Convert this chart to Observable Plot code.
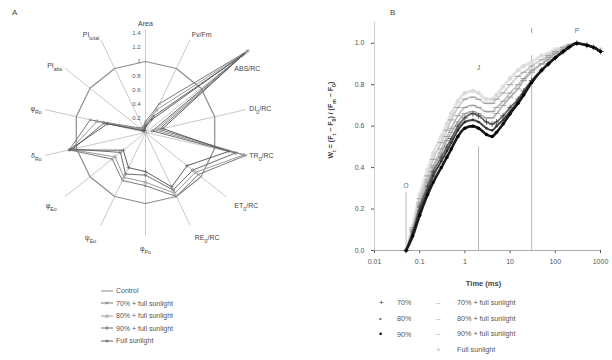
<!DOCTYPE html>
<html><head><meta charset="utf-8">
<script src="https://cdn.jsdelivr.net/npm/d3@7"></script>
<script src="https://cdn.jsdelivr.net/npm/@observablehq/plot@0.6"></script>
<style>
body{margin:0;background:#fff;font-family:"Liberation Sans",Arial,sans-serif;}
#wrap{position:relative;width:612px;height:360px;overflow:hidden;background:#fff;}
.panel{position:absolute;top:0;}
.plab{position:absolute;font-size:8px;color:#444;}
.leg{position:absolute;font-size:7px;color:#555;line-height:1;}
.row{position:absolute;white-space:nowrap;display:flex;align-items:center;}
.row svg{margin-right:3px;}
</style></head><body><div id="wrap">
<div id="A" class="panel" style="left:0"></div>
<div id="B" class="panel" style="left:300px"></div>
<div class="plab" style="left:12px;top:8px">A</div>
<div class="plab" style="left:390px;top:8px">B</div>
<div id="legA" class="leg" style="left:101px;top:287px;width:130px;height:66px"></div>
<div id="legB" class="leg" style="left:376px;top:296px;width:220px;height:62px;font-size:7.2px"></div>
</div>
<script>
// ---------- Panel A data (relative to control) ----------
const radarAxes = ["Area","Fv/Fm","ABS/RC","DI_{0}/RC","TR_{0}/RC","ET_{0}/RC","RE_{0}/RC","φ_{Po}","ψ_{Eo}","φ_{Eo}","δ_{Ro}","φ_{Ro}","PI_{abs}","PI_{total}"];
const radarTicks = [0.2,0.4,0.6,0.8,1,1.2,1.4];
const radarNames = ["Control","70% + full sunlight","80% + full sunlight","90% + full sunlight","Full sunlight"];
const radarControl = [1,1,1,1,1,1,1,1,1,1,1,1,1,1];
const radar70 = [0.15,0.45,1.85,0.20,1.45,0.95,1.00,0.75,0.75,0.60,1.10,0.80,0.10,0.08];
const radar80 = [0.12,0.35,1.82,0.15,1.42,0.90,0.95,0.70,0.70,0.55,1.08,0.70,0.08,0.06];
const radar90 = [0.10,0.25,1.74,0.10,1.30,0.85,0.90,0.60,0.65,0.45,1.05,0.60,0.05,0.04];
const radarFull = [0.08,0.20,1.78,0.25,1.20,0.75,0.85,0.55,0.55,0.40,1.10,0.55,0.04,0.03];

// ---------- Panel B data (OJIP W_t) ----------
const timeMs = [0.05,0.07,0.1,0.15,0.2,0.3,0.4,0.5,0.7,1,1.5,2,3,4,5,7,10,15,20,30,50,70,100,150,200,300,500,700,1000];
const w70  = [0,0.09,0.21,0.31,0.38,0.45,0.50,0.54,0.60,0.64,0.66,0.65,0.62,0.61,0.62,0.65,0.69,0.73,0.77,0.82,0.87,0.90,0.93,0.96,0.98,1.00,0.99,0.98,0.96];
const w80  = [0,0.08,0.19,0.29,0.36,0.43,0.48,0.52,0.58,0.62,0.63,0.62,0.59,0.58,0.60,0.63,0.67,0.72,0.76,0.81,0.87,0.90,0.93,0.96,0.98,1.00,0.99,0.98,0.96];
const w90  = [0,0.07,0.17,0.27,0.33,0.40,0.45,0.49,0.55,0.59,0.60,0.59,0.56,0.55,0.57,0.61,0.66,0.71,0.75,0.81,0.87,0.90,0.93,0.96,0.98,1.00,0.99,0.98,0.96];
const w70fs = [0,0.10,0.23,0.34,0.41,0.49,0.55,0.59,0.65,0.69,0.70,0.69,0.67,0.67,0.69,0.72,0.76,0.80,0.83,0.87,0.90,0.93,0.95,0.97,0.99,1.00,0.99,0.98,0.96];
const w80fs = [0,0.10,0.22,0.33,0.40,0.47,0.53,0.57,0.62,0.66,0.67,0.66,0.64,0.64,0.66,0.70,0.74,0.78,0.82,0.86,0.90,0.92,0.95,0.97,0.99,1.00,0.99,0.98,0.96];
const w90fs = [0,0.11,0.25,0.36,0.44,0.52,0.58,0.63,0.69,0.73,0.74,0.73,0.71,0.71,0.73,0.76,0.80,0.84,0.86,0.89,0.92,0.94,0.96,0.98,0.99,1.00,0.99,0.98,0.96];
const wFull = [0,0.12,0.27,0.39,0.47,0.55,0.61,0.66,0.72,0.76,0.77,0.76,0.73,0.73,0.75,0.79,0.83,0.87,0.89,0.91,0.94,0.95,0.97,0.98,0.99,1.00,0.99,0.98,0.97];
const stepNames = ["O","J","I","P"];
const stepTimes = [0.05,2,30,300];
const stepTops = [0.28,0.5,0.94,null];
const stepLabelY = [0.31,0.88,1.06,1.06];
const xTicks = [0.01,0.1,1,10,100,1000];
const yTicks = [0,0.2,0.4,0.6,0.8,1.0];

// ---------- helpers ----------
function subify(root){
  root.querySelectorAll("text").forEach(t=>{
    const tsp=[...t.querySelectorAll("tspan")];
    const nodes = tsp.length? tsp : [t];
    nodes.forEach(n=>{
      const s=n.textContent; if(!s.includes("_{")) return;
      n.textContent="";
      const re=/_\{([^}]*)\}/g; let last=0,m;
      while((m=re.exec(s))){
        if(m.index>last) n.appendChild(document.createTextNode(s.slice(last,m.index)));
        const ts=document.createElementNS("http://www.w3.org/2000/svg","tspan");
        ts.setAttribute("baseline-shift","sub"); ts.setAttribute("font-size","75%");
        ts.textContent=m[1]; n.appendChild(ts); last=re.lastIndex;
      }
      if(last<s.length) n.appendChild(document.createTextNode(s.slice(last)));
    });
  });
}
const dashSymbol = {draw(ctx,size){const w=Math.sqrt(size)*0.9; ctx.moveTo(-w,0); ctx.lineTo(w,0);}};

// ---------- Panel A: radar ----------
const N = radarAxes.length;
const ang = i => i*2*Math.PI/N;
const radarSeries = [
  {name:radarNames[0], v:radarControl, color:"#8c8c8c", sym:null},
  {name:radarNames[1], v:radar70, color:"#7a7a7a", sym:"times"},
  {name:radarNames[2], v:radar80, color:"#9c9c9c", sym:"triangle"},
  {name:radarNames[3], v:radar90, color:"#6e6e6e", sym:"circle"},
  {name:radarNames[4], v:radarFull, color:"#5e5e5e", sym:"plus"}
];
function ring(vals){ const r=vals.map((v,i)=>({i,v})); r.push({i:0,v:vals[0]}); return r; }
const rx = d => d.v*Math.sin(ang(d.i));
const ry = d => d.v*Math.cos(ang(d.i));
const axisRows = radarAxes.map((name,i)=>({name,i}));
// label placement groups (outside the spokes)
function labGroup(i){
  const s=Math.sin(ang(i)), c=Math.cos(ang(i));
  const ta = s>0.2?"start":s<-0.2?"end":"middle";
  let la = c>0.7?"bottom":c<-0.5?"top":"middle", r=1.5, dy=0;
  if (c<-0.5) r=1.6;
  if (s>0.2 && c>0.5 && c<=0.7) { la="top"; r=1.6; dy=4; }
  return {ta,la,r,dy,key:ta+la+dy};
}
const groups = d3.groups(axisRows, d=>labGroup(d.i).key).map(([k,arr])=>arr);
const labelMarks = groups.map(arr=>{
  const g = labGroup(arr[0].i);
  return Plot.text(arr,{x:d=>labGroup(d.i).r*Math.sin(ang(d.i)), y:d=>labGroup(d.i).r*Math.cos(ang(d.i)), text:"name",
    textAnchor:g.ta, lineAnchor:g.la, dy:g.dy, fontSize:7, fill:"#444"});
});
const seriesMarks = [];
radarSeries.forEach(s=>{
  const rows = ring(s.v);
  seriesMarks.push(Plot.line(rows,{x:rx,y:ry,stroke:s.color,strokeWidth:s.sym?1:1.2}));
  if(s.sym) seriesMarks.push(Plot.dot(rows.slice(0,-1),{x:rx,y:ry,stroke:s.color,symbol:s.sym,r:1.3,strokeWidth:0.7}));
});
const plotA = Plot.plot({
  width:300, height:280, margin:0,
  x:{domain:[-2,2], range:[145-142,145+142], axis:null},
  y:{domain:[-2,2], range:[132+142,132-142], axis:null},
  style:{fontFamily:"Liberation Sans, Arial, sans-serif", background:"transparent"},
  marks:[
    Plot.link(axisRows,{x1:()=>0,y1:()=>0,x2:d=>1.45*Math.sin(ang(d.i)),y2:d=>1.45*Math.cos(ang(d.i)),stroke:"#b0b0b0",strokeWidth:0.7}),
    ...labelMarks,
    Plot.text(radarTicks,{x:()=>-0.07,y:d=>d,text:d=>String(d),textAnchor:"end",fontSize:6,fill:"#555"}),
    ...seriesMarks
  ]
});
subify(plotA);
document.getElementById("A").appendChild(plotA);

// legend A
const legA=document.getElementById("legA");
radarSeries.forEach((s,k)=>{
  const d=document.createElement("div"); d.className="row"; d.style.top=(k*12.6)+"px"; d.style.left="0px";
  const mk = s.sym==="times"?'<path d="M4.5 1.5l3 3M7.5 1.5l-3 3" stroke="'+s.color+'" stroke-width="0.7"/>':
             s.sym==="triangle"?'<path d="M6 1.3l1.6 3H4.4z" fill="none" stroke="'+s.color+'" stroke-width="0.7"/>':
             s.sym==="circle"?'<circle cx="6" cy="3" r="1.3" fill="none" stroke="'+s.color+'" stroke-width="0.7"/>':
             s.sym==="plus"?'<path d="M6 1.3v3.4M4.3 3h3.4" stroke="'+s.color+'" stroke-width="0.7"/>':'';
  d.innerHTML='<svg width="12" height="6"><line x1="0" y1="3" x2="12" y2="3" stroke="'+s.color+'" stroke-width="1"/>'+mk+'</svg><span>'+s.name+'</span>';
  legA.appendChild(d);
});

// ---------- Panel B ----------
const rows = (vals,name)=>timeMs.map((t,i)=>({t,w:vals[i],name}));
const dFull=rows(wFull,"Full sunlight"), d70fs=rows(w70fs,"70% + full sunlight"), d80fs=rows(w80fs,"80% + full sunlight"), d90fs=rows(w90fs,"90% + full sunlight");
const d70=rows(w70,"70%"), d80=rows(w80,"80%"), d90=rows(w90,"90%");
const steps = stepNames.map((n,i)=>({n,t:stepTimes[i],top:stepTops[i],ly:stepLabelY[i]}));
const plotB = Plot.plot({
  width:312, height:290, marginLeft:74, marginRight:12, marginTop:22, marginBottom:40,
  x:{type:"log", domain:[0.01,1000], ticks:xTicks, tickFormat:d=>String(d), tickSize:3, tickPadding:6, label:null},
  y:{domain:[0,1.1], ticks:yTicks, tickFormat:d3.format(".1f"), tickSize:3, tickPadding:7, label:null},
  style:{fontFamily:"Liberation Sans, Arial, sans-serif", fontSize:"7px", color:"#555", background:"transparent"},
  marks:[
    Plot.ruleY([0],{stroke:"#999",strokeWidth:0.8}),
    Plot.ruleX([0.01],{stroke:"#bbb",strokeWidth:0.8}),
    Plot.ruleX(steps.filter(d=>d.top!=null),{x:"t",y1:()=>0,y2:"top",stroke:"#999",strokeWidth:0.7}),
    Plot.text(steps,{x:"t",y:"ly",text:"n",fontSize:6.5,fill:"#666"}),
    Plot.line(dFull,{x:"t",y:"w",stroke:"#e2e2e2",strokeWidth:3,curve:"monotone-x"}),
    Plot.dot(dFull,{x:"t",y:"w",fill:"#dcdcdc",r:2.2}),
    Plot.line(d90fs,{x:"t",y:"w",stroke:"#c8c8c8",strokeWidth:1.6,curve:"monotone-x"}),
    Plot.line(d70fs,{x:"t",y:"w",stroke:"#bdbdbd",strokeWidth:1.6,curve:"monotone-x"}),
    Plot.line(d80fs,{x:"t",y:"w",stroke:"#b0b0b0",strokeWidth:1.6,curve:"monotone-x"}),
    Plot.dot([...d90fs,...d70fs,...d80fs],{x:"t",y:"w",symbol:dashSymbol,stroke:"#999",r:2,strokeWidth:0.9}),
    Plot.line(d70,{x:"t",y:"w",stroke:"#666",strokeWidth:1.8,curve:"monotone-x"}),
    Plot.dot(d70,{x:"t",y:"w",symbol:"plus",stroke:"#444",r:2,strokeWidth:0.8}),
    Plot.line(d80,{x:"t",y:"w",stroke:"#444",strokeWidth:2,curve:"monotone-x"}),
    Plot.dot(d80,{x:"t",y:"w",fill:"#333",r:1.3}),
    Plot.line(d90,{x:"t",y:"w",stroke:"#1a1a1a",strokeWidth:2.6,curve:"monotone-x"}),
    Plot.dot(d90,{x:"t",y:"w",fill:"#000",r:1.7}),
    Plot.text(["W_{t} = (F_{t} − F_{0}) / (F_{m} − F_{0})"],{frameAnchor:"left",dx:-44,dy:22,rotate:-90,fontSize:7,fontWeight:"bold",fill:"#444"}),
    Plot.text(["Time (ms)"],{frameAnchor:"bottom",dx:-4,dy:35,fontSize:7.5,fontWeight:"bold",fill:"#444"})
  ]
});
subify(plotB);
document.getElementById("B").appendChild(plotB);

// legend B
const legB=document.getElementById("legB");
const leftItems=[["+","#333","70%"],["•","#555","80%"],["•","#000","90%"]];
const rightItems=[["–","#aaa","70% + full sunlight"],["–","#aaa","80% + full sunlight"],["–","#aaa","90% + full sunlight"],["●","#ddd","Full sunlight"]];
leftItems.forEach((it,k)=>{
  const d=document.createElement("div"); d.className="row"; d.style.top=(k*15.5+3)+"px"; d.style.left="3px";
  d.innerHTML='<span style="display:inline-block;width:18px;color:'+it[1]+';font-size:'+(it[0]==="•"?(k===1?7:9):8)+'px">'+it[0]+'</span><span>'+it[2]+'</span>';
  legB.appendChild(d);
});
rightItems.forEach((it,k)=>{
  const d=document.createElement("div"); d.className="row"; d.style.top=(k*15.5+3)+"px"; d.style.left="60px";
  d.innerHTML='<span style="display:inline-block;width:21px;color:'+it[1]+';font-size:8px">'+it[0]+'</span><span>'+it[2]+'</span>';
  legB.appendChild(d);
});
</script>
</body></html>
